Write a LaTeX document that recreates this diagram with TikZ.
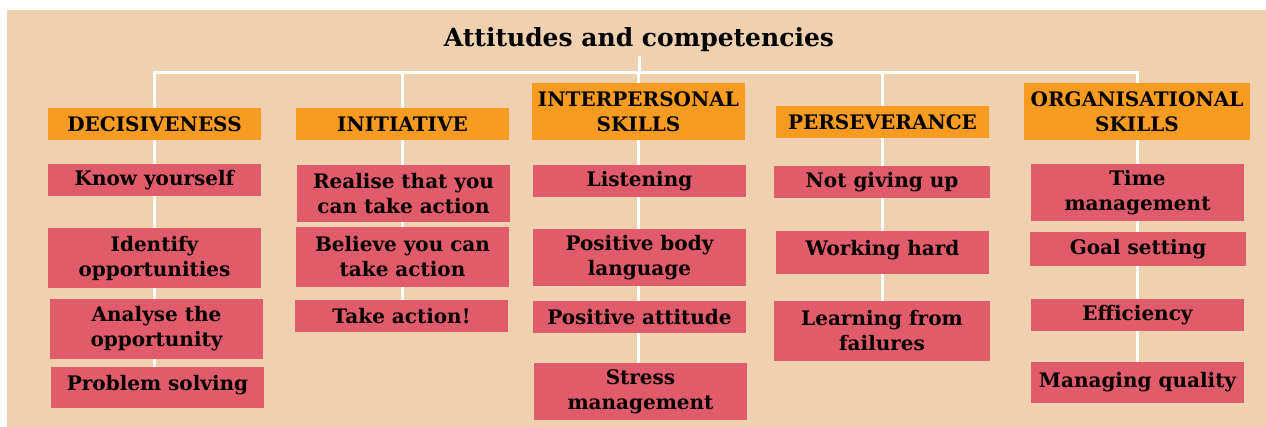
\documentclass[tikz,border=0pt]{standalone}
\usepackage{fontspec}
\setmainfont{DejaVu Serif}
\usetikzlibrary{positioning}
\definecolor{acBeige}{HTML}{EFD1B0}
\definecolor{acOrange}{HTML}{F79B21}
\definecolor{acRose}{HTML}{E05C6A}
\pgfdeclarelayer{back}
\pgfdeclarelayer{links}
\pgfsetlayers{back,links,main}

\begin{document}
\begin{tikzpicture}[x=1pt, y=-1pt,
    head/.style={fill=acOrange, inner sep=0pt, minimum width=213pt, align=center,
      font=\fontsize{20}{25}\selectfont\bfseries},
    item/.style={fill=acRose, inner sep=0pt, minimum width=213pt, align=center,
      font=\fontsize{20}{25}\selectfont\bfseries},
    lifted/.style={text depth=10pt},
    link/.style={draw=white, line width=3pt}]
  \useasboundingbox (0,0) rectangle (1266,427);

  % title
  \node[anchor=base, font=\fontsize{25}{32}\selectfont\bfseries] (title) at (639,47) {Attitudes and competencies};

  % decisiveness
  \node[head, minimum height=32pt] (dec) at (154.5,124) {DECISIVENESS};
  \node[item, minimum height=32pt] (dec1) at (154.5,180) {Know yourself};
  \node[item, minimum height=60pt] (dec2) at (154.5,258) {Identify\\opportunities};
  \node[item, minimum height=60pt] (dec3) at (156.5,329) {Analyse the\\opportunity};
  \node[item, lifted, minimum height=41pt] (dec4) at (157.5,387.5) {Problem solving};

  % initiative
  \node[head, minimum height=32pt] (ini) at (402.5,124) {INITIATIVE};
  \node[item, minimum height=57pt] (ini1) at (403.5,193.5) {Realise that you\\can take action};
  \node[item, minimum height=60pt] (ini2) at (402.5,257) {Believe you can\\take action};
  \node[item, minimum height=32pt] (ini3) at (401.5,316) {Take action!};

  % interpersonal skills
  \node[head, minimum height=57pt] (inp) at (638.5,111.5) {INTERPERSONAL\\SKILLS};
  \node[item, minimum height=32pt] (inp1) at (639.5,181) {Listening};
  \node[item, minimum height=57pt] (inp2) at (639.5,257.5) {Positive body\\language};
  \node[item, minimum height=32pt] (inp3) at (639.5,317) {Positive attitude};
  \node[item, minimum height=57pt] (inp4) at (640.5,391.5) {Stress\\management};

  % perseverance
  \node[head, minimum height=32pt] (per) at (882.5,122) {PERSEVERANCE};
  \node[item, minimum height=32pt, minimum width=216pt] (per1) at (882,182) {Not giving up};
  \node[item, lifted, minimum height=43pt] (per2) at (882.5,252.5) {Working hard};
  \node[item, minimum height=60pt, minimum width=216pt] (per3) at (882,331) {Learning from\\failures};

  % organisational skills
  \node[head, minimum height=57pt, minimum width=226pt] (org) at (1137,111.5) {ORGANISATIONAL\\SKILLS};
  \node[item, minimum height=57pt] (org1) at (1137.5,192.5) {Time\\management};
  \node[item, minimum height=34pt, minimum width=216pt] (org2) at (1138,249) {Goal setting};
  \node[item, minimum height=32pt] (org3) at (1137.5,315) {Efficiency};
  \node[item, minimum height=41pt] (org4) at (1137.5,382.5) {Managing quality};

  \begin{pgfonlayer}{back}
    \fill[white] (0,0) rectangle (1266,427);
    \fill[acBeige] (7,10) rectangle (1266,427);
  \end{pgfonlayer}

  \begin{pgfonlayer}{links}
    \coordinate (bar) at (639,73);
    \draw[link] (title.south) -- (title.south |- bar);
    \draw[link] (dec |- dec4.north) -- (dec |- bar) -- (org |- bar) -- (org |- org4.north);
    \foreach \h/\l in {ini/ini3, inp/inp4, per/per3}
      \draw[link] (\h |- bar) -- (\h |- \l.north);
  \end{pgfonlayer}
\end{tikzpicture}
\end{document}
